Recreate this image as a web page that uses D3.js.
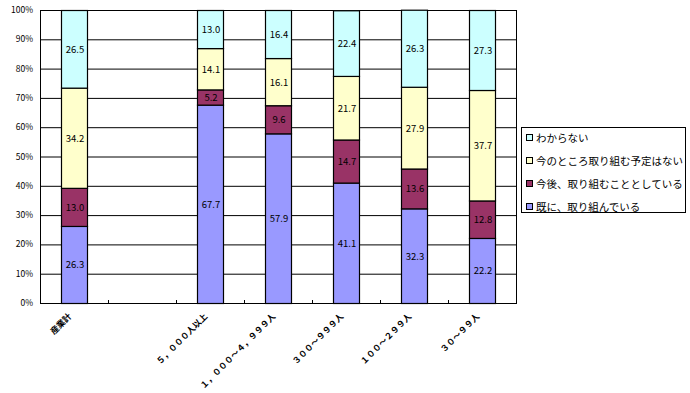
<!DOCTYPE html>
<html><head><meta charset="utf-8">
<script src="https://cdn.jsdelivr.net/npm/d3@7"></script>
<style>body{margin:0;background:#fff}svg{display:block}text{font-family:"Noto Sans CJK JP","DejaVu Sans",sans-serif}</style>
</head><body>
<svg id="c" width="690" height="393"></svg>
<script>
const categories = ["産業計", "", "５，０００人以上", "１，０００～４，９９９人", "３００～９９９人", "１００～２９９人", "３０～９９人"];
const seriesNames = ["既に、取り組んでいる", "今後、取り組むこととしている", "今のところ取り組む予定はない", "わからない"];
const already = [26.3, null, 67.7, 57.9, 41.1, 32.3, 22.2];
const planning = [13.0, null, 5.2, 9.6, 14.7, 13.6, 12.8];
const noPlan = [34.2, null, 14.1, 16.1, 21.7, 27.9, 37.7];
const unknown = [26.5, null, 13.0, 16.4, 22.4, 26.3, 27.3];
const yTicks = [0, 10, 20, 30, 40, 50, 60, 70, 80, 90, 100];
const colors = ["#9999FF", "#993366", "#FFFFCC", "#CCFFFF"];

const svg = d3.select("#c");
const L = 40, R = 516, T = 10, B = 303;
const x = d3.scaleBand().domain(d3.range(categories.length)).range([L, R]);
const y = d3.scaleLinear().domain([0, 100]).range([B, T]);
const seriesVals = [already, planning, noPlan, unknown];

// gridlines
svg.append("g").selectAll("line").data(yTicks).join("line")
  .attr("x1", L).attr("x2", R).attr("y1", d => y(d) + 0.5).attr("y2", d => y(d) + 0.5)
  .attr("stroke", "#000").attr("stroke-width", 1);
svg.append("rect").attr("x", L + 0.5).attr("y", T + 0.5).attr("width", R - L).attr("height", B - T)
  .attr("fill", "none").attr("stroke", "#000");

// y labels
svg.append("g").selectAll("text").data(yTicks).join("text")
  .attr("x", 33).attr("y", d => y(d) + 3).attr("text-anchor", "end")
  .attr("font-size", 8.5).attr("fill", "#000").text(d => d + "%");

// x ticks (inside, at slot boundaries)
svg.append("g").selectAll("line").data(d3.range(1, categories.length)).join("line")
  .attr("x1", d => L + d * x.step() + 0.5).attr("x2", d => L + d * x.step() + 0.5)
  .attr("y1", B).attr("y2", B - 3).attr("stroke", "#000");

// bars
const bw = 26;
categories.forEach((c, i) => {
  if (already[i] == null) return;
  let cum = 0;
  const cx = x(i) + x.bandwidth() / 2;
  seriesVals.forEach((s, k) => {
    const v = s[i];
    const y0 = y(cum), y1 = y(cum + v);
    svg.append("rect").attr("x", cx - bw / 2 + 0.5).attr("y", y1 + 0.5).attr("width", bw).attr("height", y0 - y1)
      .attr("fill", colors[k]).attr("stroke", "#000").attr("stroke-width", 1.2);
    svg.append("text").attr("x", cx + 1).attr("y", (y0 + y1) / 2 + 4).attr("text-anchor", "middle")
      .attr("font-size", 9.5).attr("fill", "#000").text(v.toFixed(1));
    cum += v;
  });
});

// x labels
svg.append("g").selectAll("text").data(categories.map((c, i) => [c, i]).filter(d => d[0])).join("text")
  .attr("transform", d => `translate(${x(d[1]) + x.bandwidth() / 2 - 2},${B + 14}) rotate(-45)`)
  .attr("text-anchor", "end").attr("font-size", 8.5).attr("font-weight", "bold").attr("fill", "#000").text(d => d[0]);

// legend
const lg = svg.append("g");
lg.append("rect").attr("x", 521.5).attr("y", 127.5).attr("width", 164).attr("height", 85)
  .attr("fill", "#fff").attr("stroke", "#000");
const legOrder = [3, 2, 1, 0];
legOrder.forEach((k, j) => {
  const yy = 138 + j * 23;
  lg.append("rect").attr("x", 526.5).attr("y", yy - 3.5).attr("width", 6).attr("height", 6)
    .attr("fill", colors[k]).attr("stroke", "#000");
  lg.append("text").attr("x", 536).attr("y", yy + 4).attr("font-size", 10.5).attr("fill", "#000").text(seriesNames[k]);
});
</script>
</body></html>
